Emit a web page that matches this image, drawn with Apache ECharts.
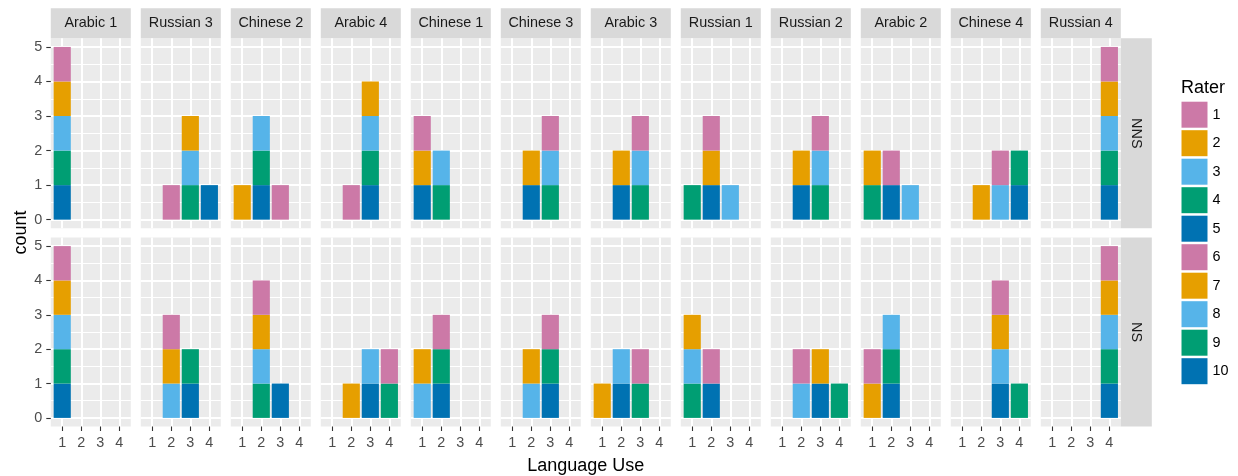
<!DOCTYPE html>
<html>
<head>
<meta charset="utf-8">
<title>Language Use</title>
<script src="https://cdn.jsdelivr.net/npm/echarts@6/dist/echarts.min.js"></script>
<style>
  html, body { margin: 0; padding: 0; background: #fff; }
  #main { width: 1238px; height: 476px; }
</style>
</head>
<body>
<div id="main"></div>
<script>
// texts (facet columns) and rater groups (facet rows)
const texts = ['Arabic 1', 'Russian 3', 'Chinese 2', 'Arabic 4', 'Chinese 1', 'Chinese 3',
  'Arabic 3', 'Russian 1', 'Russian 2', 'Arabic 2', 'Chinese 4', 'Russian 4']
const groups = ['NNS', 'NS']
const raters = ['1', '2', '3', '4', '5', '6', '7', '8', '9', '10']
// raters 1-5 are NNS, 6-10 are NS
const groupRaters = [[0, 1, 2, 3, 4], [5, 6, 7, 8, 9]]
const scoreLevels = ['1', '2', '3', '4']
const scoreTicks = [1, 2, 3, 4]
const countTicks = [0, 1, 2, 3, 4, 5]
const countMinorTicks = [0.5, 1.5, 2.5, 3.5, 4.5]

// Language Use score each rater gave each text (same order as texts)
const scoresRater1 = [1, 2, 3, 2, 1, 3, 3, 2, 3, 2, 3, 4]
const scoresRater2 = [1, 3, 1, 3, 1, 2, 2, 2, 2, 1, 2, 4]
const scoresRater3 = [1, 3, 2, 3, 2, 3, 3, 3, 3, 3, 3, 4]
const scoresRater4 = [1, 3, 2, 3, 2, 3, 3, 1, 3, 1, 4, 4]
const scoresRater5 = [1, 4, 2, 3, 1, 2, 2, 2, 2, 2, 4, 4]
const scoresRater6 = [1, 2, 2, 4, 2, 3, 3, 2, 2, 1, 3, 4]
const scoresRater7 = [1, 2, 2, 2, 1, 2, 1, 1, 3, 1, 3, 4]
const scoresRater8 = [1, 2, 2, 3, 1, 2, 2, 1, 2, 2, 3, 4]
const scoresRater9 = [1, 3, 2, 4, 2, 3, 3, 1, 4, 2, 4, 4]
const scoresRater10 = [1, 3, 3, 3, 2, 3, 2, 2, 3, 2, 3, 4]
const raterScores = [scoresRater1, scoresRater2, scoresRater3, scoresRater4, scoresRater5,
  scoresRater6, scoresRater7, scoresRater8, scoresRater9, scoresRater10]

const palette = ['#CC79A7', '#E69F00', '#56B4E9', '#009E73', '#0072B2',
  '#CC79A7', '#E69F00', '#56B4E9', '#009E73', '#0072B2']

const fontFamily = 'Liberation Sans, Arial, sans-serif'
const panelLeft = 50.8
const panelW = 80
const panelPitch = 90
const rowTop = [38.3, 237.5]
const rowH = [190, 189]
const xMin = 0.4, xMax = 4.6
const yMin = -0.25, yMax = 5.25
const unit = panelW / (xMax - xMin)
const barW = 0.9 * unit
const nPanels = groups.length * texts.length

// background grids: panel, grid lines, ticks, labels
let bgGrids = [], bgX = [], bgY = [], bgYMinor = []
// bar grids: discrete x (1..4), stacked counts
let barGrids = [], barX = [], barY = []
let series = []
let graphics = []

groups.forEach((group, r) => {
  texts.forEach((text, c) => {
    let g = r * texts.length + c
    let left = panelLeft + panelPitch * c
    bgGrids.push({
      left: left, top: rowTop[r], width: panelW, height: rowH[r],
      show: true, backgroundColor: '#EBEBEB', borderWidth: 0
    })
    bgX.push({
      type: 'value', gridIndex: g, min: xMin, max: xMax,
      axisLine: { show: false, onZero: false },
      axisTick: { show: r === 1, customValues: scoreTicks, length: 4.5, lineStyle: { color: '#333333', width: 1.1 } },
      axisLabel: { show: r === 1, customValues: scoreTicks, margin: 9.5, color: '#4D4D4D', fontSize: 14.4, fontFamily: fontFamily },
      splitLine: { show: true, lineStyle: { color: '#FFFFFF', width: 2 } }
    })
    bgY.push({
      type: 'value', gridIndex: g, min: yMin, max: yMax,
      axisLine: { show: false, onZero: false },
      axisTick: { show: c === 0, customValues: countTicks, length: 4.5, lineStyle: { color: '#333333', width: 1.1 } },
      axisLabel: { show: c === 0, customValues: countTicks, margin: 8.5, color: '#4D4D4D', fontSize: 14.4, fontFamily: fontFamily },
      splitLine: { show: true, lineStyle: { color: '#FFFFFF', width: 2 } }
    })
    bgYMinor.push({
      type: 'value', gridIndex: g, min: yMin, max: yMax,
      axisLine: { show: false },
      axisTick: { show: false, customValues: countMinorTicks },
      axisLabel: { show: false, customValues: countMinorTicks },
      splitLine: { show: true, lineStyle: { color: '#FFFFFF', width: 1.1 } }
    })

    // the discrete x scale runs from 0.4 to 4.6, so the 1..4 points sit 0.6 units inside
    barGrids.push({
      left: left + (1 - xMin) * unit, top: rowTop[r], width: 3 * unit, height: rowH[r],
      show: false
    })
    barX.push({
      type: 'category', gridIndex: nPanels + g, data: scoreLevels, boundaryGap: false,
      show: false
    })
    barY.push({
      type: 'value', gridIndex: nPanels + g, min: yMin, max: yMax,
      show: false, splitLine: { show: false }
    })
    // rater 1 (or 6) ends up on top, like ggplot
    groupRaters[r].slice().reverse().forEach(k => {
      let score = raterScores[k][c]
      series.push({
        type: 'bar',
        name: raters[k],
        xAxisIndex: nPanels + g,
        yAxisIndex: 2 * nPanels + g,
        stack: 's' + g,
        barWidth: barW,
        clip: false,
        itemStyle: { color: palette[k] },
        emphasis: { disabled: true },
        data: scoreLevels.map(x => (String(score) === x ? 1 : 0))
      })
    })

    // column strip
    if (r === 0) {
      graphics.push({
        type: 'rect',
        shape: { x: left, y: 8.3, width: panelW, height: 30 },
        style: { fill: '#D9D9D9' }
      })
      graphics.push({
        type: 'text',
        x: left + panelW / 2,
        y: 23.5,
        style: { text: text, fill: '#1A1A1A', fontSize: 14.4, fontFamily: fontFamily, align: 'center', verticalAlign: 'middle' }
      })
    }
  })
  // row strip
  let stripX = panelLeft + panelPitch * (texts.length - 1) + panelW
  graphics.push({
    type: 'rect',
    shape: { x: stripX, y: rowTop[r], width: 31, height: rowH[r] },
    style: { fill: '#D9D9D9' }
  })
  graphics.push({
    type: 'text',
    x: stripX + 15.5,
    y: rowTop[r] + rowH[r] / 2,
    rotation: -Math.PI / 2,
    style: { text: group, fill: '#1A1A1A', fontSize: 14.4, fontFamily: fontFamily, align: 'center', verticalAlign: 'middle' }
  })
})

// axis titles and legend title
graphics.push({
  type: 'text',
  x: 21,
  y: 232.5,
  rotation: Math.PI / 2,
  style: { text: 'count', fill: '#000000', fontSize: 18, fontFamily: fontFamily, align: 'center', verticalAlign: 'middle' }
})
graphics.push({
  type: 'text',
  x: (panelLeft + panelLeft + panelPitch * (texts.length - 1) + panelW) / 2,
  y: 466.5,
  style: { text: 'Language Use', fill: '#000000', fontSize: 18, fontFamily: fontFamily, align: 'center', verticalAlign: 'middle' }
})
graphics.push({
  type: 'text',
  x: 1181,
  y: 88,
  style: { text: 'Rater', fill: '#000000', fontSize: 18, fontFamily: fontFamily, align: 'left', verticalAlign: 'middle' }
})

const chart = echarts.init(document.getElementById('main'), null, { renderer: 'canvas' })
chart.setOption({
  animation: false,
  backgroundColor: '#FFFFFF',
  grid: bgGrids.concat(barGrids),
  xAxis: bgX.concat(barX),
  yAxis: bgY.concat(bgYMinor, barY),
  series: series,
  legend: {
    data: raters,
    orient: 'vertical',
    left: 1181.5,
    top: 101.7,
    padding: 0,
    itemWidth: 26,
    itemHeight: 26,
    itemGap: 2.5,
    icon: 'rect',
    selectedMode: false,
    textStyle: { color: '#000000', fontSize: 14.4, fontFamily: fontFamily }
  },
  graphic: graphics
})
</script>
</body>
</html>
